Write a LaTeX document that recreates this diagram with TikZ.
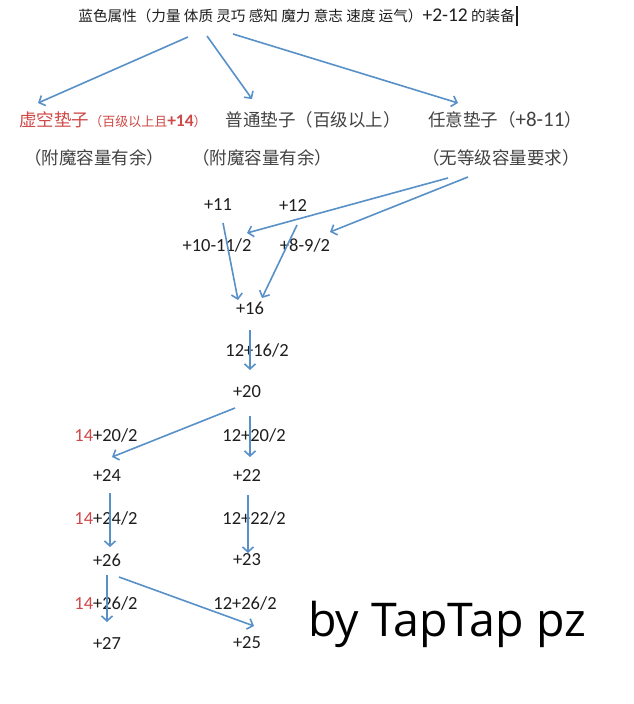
\documentclass[tikz,border=0pt]{standalone}
\usepackage{fontspec}
\setmainfont{Carlito}
\newfontfamily\cjk{Noto Sans CJK SC}
\newfontfamily\sig{Open Sans}
\usetikzlibrary{arrows.meta}
\definecolor{arrowblue}{RGB}{88,144,200}
\definecolor{padred}{RGB}{208,72,72}
\definecolor{ink}{RGB}{30,30,30}
\definecolor{grayink}{RGB}{66,66,66}
\newcommand\ver[1]{\textcolor{padred}{#1}}

\begin{document}
\begin{tikzpicture}[x=1pt, y=-1pt, >={Straight Barb[length=5pt,width=11pt]}]
      \tikzstyle{link} = [->, draw=arrowblue, line width=1.6pt]
      \tikzstyle{num}  = [inner sep=0, text=ink, font=\fontsize{18.5}{20}\selectfont]
      \tikzstyle{pad}  = [inner sep=0, text=grayink, font=\cjk\fontsize{17.5}{20}\selectfont]
      \tikzstyle{head} = [inner sep=0, text=ink, font=\cjk\fontsize{14.6}{16}\selectfont]

      \fill[white] (0,0) rectangle (634,704);
      \useasboundingbox (0,0) rectangle (634,704);

      % title and the three kinds of pads
      \node[head] (title) at (298,16)
        {蓝色属性（力量 体质 灵巧 感知 魔力 意志 速度 运气）{\rmfamily\fontsize{19.5}{16}\selectfont +2-12} 的装备\hspace{1pt}\rule[-5pt]{1.6pt}{20pt}};
      \node[pad, text=padred] (xk) at (113,120)
        {虚空垫子{\fontsize{13}{14}\selectfont（百级以上且{\rmfamily\bfseries\fontsize{17.5}{14}\selectfont +14}）}};
      \node[pad] (pt)  at (313,120) {普通垫子（百级以上）};
      \node[pad] (ry)  at (505,120) {任意垫子（{\rmfamily\fontsize{21}{20}\selectfont +8-11}）};
      \node[pad] (fm1) at (94,158)  {（附魔容量有余）};
      \node[pad] (fm2) at (262,158) {（附魔容量有余）};
      \node[pad] (wd)  at (501,158) {（无等级容量要求）};

      % values
      \node[num] (n11)   at (218,205) {+11};
      \node[num] (n12)   at (293,205) {+12};
      \node[num] (l1011) at (217,245) {+10-11/2};
      \node[num] (l89)   at (305,245) {+8-9/2};
      \node[num] (n16)   at (250,308) {+16};
      \node[num] (l1216) at (257,350) {12+16/2};
      \node[num] (n20)   at (247,392) {+20};
      \node[num] (l1420) at (106,435) {\ver{14}+20/2};
      \node[num] (l1220) at (254,435) {12+20/2};
      \node[num] (n24)   at (107,475) {+24};
      \node[num] (n22)   at (247,475) {+22};
      \node[num] (l1424) at (106,518) {\ver{14}+24/2};
      \node[num] (l1222) at (254,518) {12+22/2};
      \node[num] (n26)   at (107,560) {+26};
      \node[num] (n23)   at (247,560) {+23};
      \node[num] (l1426) at (106,603) {\ver{14}+26/2};
      \node[num] (l1226) at (245,603) {12+26/2};
      \node[num] (n27)   at (107,643) {+27};
      \node[num] (n25)   at (247,643) {+25};

      \node[inner sep=0, text=black, font=\sig\fontsize{46.5}{50}\selectfont] (by) at (447,624) {by TapTap pz};

      % arrows
      \draw[link] ([shift={(-110,21)}]title.center) -- ([shift={(-75,-17)}]xk.center);
      \draw[link] ([shift={(-91,20)}]title.center)  -- ([shift={(-61,-21)}]pt.center);
      \draw[link] ([shift={(-65,18)}]title.center)  -- ([shift={(-47,-17)}]ry.center);
      \draw[link] ([shift={(-53,20)}]wd.center)     -- ([shift={(30,-12)}]l1011.center);
      \draw[link] ([shift={(-33,19)}]wd.center)     -- ([shift={(25,-13)}]l89.center);
      \draw[link] ([shift={(5,18)}]n11.center)      -- ([shift={(-12,-8)}]n16.center);
      \draw[link] ([shift={(4,20)}]n12.center)      -- ([shift={(12,-10)}]n16.center);
      \draw[link] ([shift={(0,22)}]n16.center)      -- ([shift={(3,-22)}]n20.center);
      \draw[link] ([shift={(-12,16)}]n20.center)    -- ([shift={(5,-18)}]n24.center);
      \draw[link] ([shift={(3,24)}]n20.center)      -- ([shift={(3,-18)}]n22.center);
      \draw[link] ([shift={(3,18)}]n24.center)      -- ([shift={(3,-13)}]n26.center);
      \draw[link] ([shift={(1,20)}]n22.center)      -- ([shift={(1,-7)}]n23.center);
      \draw[link] ([shift={(0,15)}]n26.center)      -- ([shift={(0,-21)}]n27.center);
      \draw[link] ([shift={(12,17)}]n26.center)     -- ([shift={(7,-17)}]n25.center);
    \end{tikzpicture}
\end{document}
